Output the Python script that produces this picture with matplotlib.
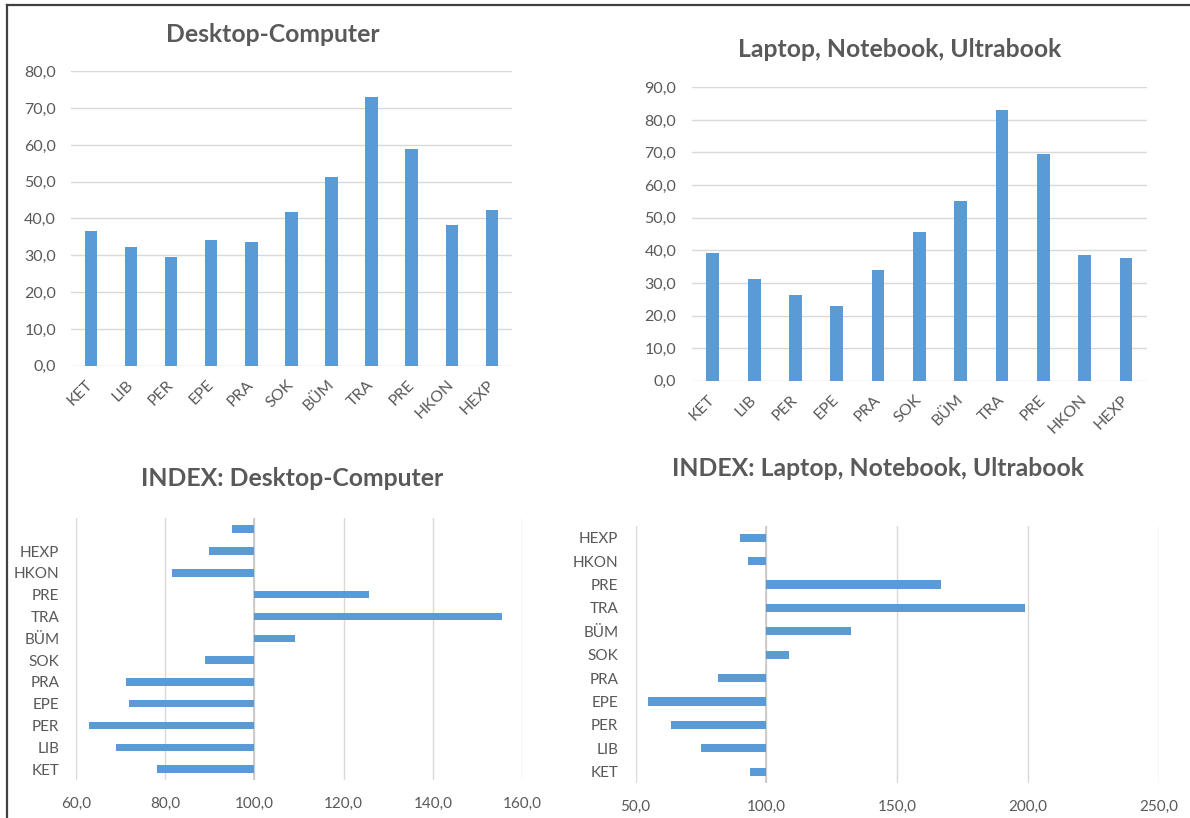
import matplotlib
matplotlib.use("Agg")
import matplotlib.pyplot as plt
from matplotlib.lines import Line2D
import numpy as np

plt.rcParams['font.family'] = ['Lato', 'DejaVu Sans']

# ---------------- data ----------------
categories = ["KET", "LIB", "PER", "EPE", "PRA", "SOK", "BÜM", "TRA", "PRE", "HKON", "HEXP"]
desktop_values = [36.7, 32.3, 29.6, 34.1, 33.5, 41.9, 51.4, 73.1, 58.9, 38.3, 42.3]
laptop_values = [39.1, 31.1, 26.4, 22.9, 33.9, 45.5, 55.1, 83.0, 69.5, 38.6, 37.5]

index_desktop_categories = ["KET", "LIB", "PER", "EPE", "PRA", "SOK", "BÜM", "TRA", "PRE", "HKON", "HEXP", ""]
index_desktop_values = [78.2, 69.0, 63.0, 72.0, 71.3, 89.0, 109.2, 155.5, 125.7, 81.6, 89.8, 95.1]
index_laptop_categories = ["KET", "LIB", "PER", "EPE", "PRA", "SOK", "BÜM", "TRA", "PRE", "HKON", "HEXP"]
index_laptop_values = [93.7, 75.1, 63.6, 54.7, 81.6, 108.7, 132.4, 198.8, 166.6, 92.8, 89.9]

titles = ["Desktop-Computer", "Laptop, Notebook, Ultrabook",
          "INDEX: Desktop-Computer", "INDEX: Laptop, Notebook, Ultrabook"]

# ---------------- style ----------------
W, H = 1190, 818
BAR = "#5B9BD5"
TXT = "#595959"
GRID = "#D9D9D9"
TOP_TICK_FS = 11.5
BOT_TICK_FS = 11
TITLE_FS = 17.8

fig = plt.figure(figsize=(W / 100, H / 100), dpi=100)
fig.patch.set_facecolor("white")


def px_axes(x0, y0, x1, y1):
    return fig.add_axes([x0 / W, 1 - y1 / H, (x1 - x0) / W, (y1 - y0) / H])


def fmt(v):
    return f"{v:.1f}".replace(".", ",")


def style_common(ax, fs):
    for s in ax.spines.values():
        s.set_visible(False)
    ax.set_facecolor("white")
    ax.tick_params(length=0, colors=TXT, labelsize=fs)


def column_chart(box, values, ymax, step, pad_y, width):
    ax = px_axes(*box)
    style_common(ax, TOP_TICK_FS)
    x = np.arange(len(categories))
    ax.bar(x, values, width=width, color=BAR, zorder=3)
    ax.set_xlim(-0.5, len(categories) - 0.5)
    ax.set_ylim(0, ymax)
    ticks = np.arange(0, ymax + 0.01, step)
    ax.set_yticks(ticks)
    ax.set_yticklabels([fmt(t) for t in ticks])
    ax.yaxis.grid(True, color=GRID, lw=1, zorder=0)
    ax.set_axisbelow(True)
    ax.set_xticks(x)
    ax.set_xticklabels(categories, rotation=45, ha="right", va="center",
                       rotation_mode="anchor")
    ax.tick_params(axis="x", pad=12)
    ax.tick_params(axis="y", pad=pad_y)
    return ax


column_chart((70.8, 71.3, 512, 365.7), desktop_values, 80, 10, 10.7, 0.315)
column_chart((692.2, 87.3, 1146.6, 380.7), laptop_values, 90, 10, 11.4, 0.31)


def index_chart(box, cats, values, xmin, xmax, step, pad_y, height):
    ax = px_axes(*box)
    style_common(ax, BOT_TICK_FS)
    y = np.arange(len(cats))
    vals = np.array(values)
    ax.barh(y, vals - 100, left=100, height=height, color=BAR, zorder=3)
    ax.set_ylim(-0.5, len(cats) - 0.5)
    ax.set_xlim(xmin, xmax)
    ticks = np.arange(xmin, xmax + 0.01, step)
    ax.set_xticks(ticks)
    ax.set_xticklabels([fmt(t) for t in ticks])
    ax.xaxis.grid(True, color=GRID, lw=1, zorder=0)
    ax.set_axisbelow(True)
    ax.axvline(100, color="#C8C8C8", lw=1.2, zorder=2)
    ax.set_yticks(y)
    ax.set_yticklabels(cats)
    ax.tick_params(axis="y", pad=pad_y)
    ax.tick_params(axis="x", pad=12)
    return ax


index_chart((75.7, 518.3, 522.1, 780), index_desktop_categories, index_desktop_values,
            60, 160, 20, 11.8, 0.34)
index_chart((635.5, 526, 1159, 783.3), index_laptop_categories, index_laptop_values,
            50, 250, 50, 12.3, 0.35)

# ---------- titles ----------
title_pos = [(273, 34), (900, 49.5), (292, 478), (878, 468)]
for t, (tx, ty) in zip(titles, title_pos):
    fig.text(tx / W, 1 - ty / H, t, ha="center", va="center",
             fontsize=TITLE_FS, fontweight="bold", color=TXT)

# ---------- frame lines ----------
fig.add_artist(Line2D([7 / W, 1], [1 - 4.5 / H, 1 - 4.5 / H], color="#404040", lw=1.6,
                      transform=fig.transFigure))
fig.add_artist(Line2D([7 / W, 7 / W], [1 - 4.5 / H, 0], color="#404040", lw=1.6,
                      transform=fig.transFigure))

fig.savefig("out.png", dpi=100, facecolor="white")
